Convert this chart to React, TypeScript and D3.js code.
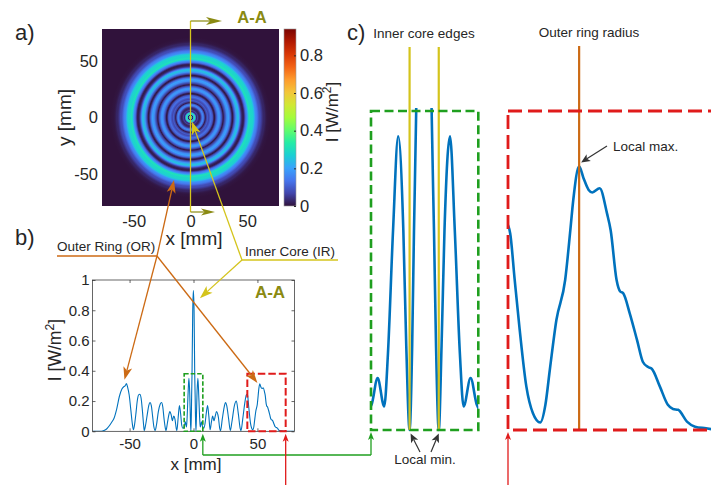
import * as d3 from 'd3';
import React, { useEffect, useRef } from 'react';

// A-A cross-section of the intensity map: x [mm], I [W/m^2]
const profileX = [
  -79, -72, -70, -68, -66, -64, -62, -60, -58, -56,
  -54.5, -53.5, -52.5, -51.5, -50.3, -49, -48, -47, -46, -45,
  -44, -43, -42, -41, -40, -39, -38.5, -37.5, -36, -35,
  -34, -33, -32, -31, -30, -29, -27.5, -26, -25, -24,
  -23, -22, -21.5, -20.5, -19.5, -18.5, -17.5, -16.5, -15.5, -14.5,
  -13.5, -13, -12, -11, -10, -9.2, -8.3, -7.23, -6.4, -5.5,
  -5, -4.3, -3.6, -2.9, -2.5, -2.05, -1.7, -1.45, -1.15, -0.6,
  -0.1, 0.45, 0.95, 1.27, 1.55, 1.92, 2.3, 2.7, 3.45, 4.1,
  4.8, 5.3, 6.25, 7.1, 8, 9, 10, 11, 12, 13,
  14, 15, 16, 17, 18, 19.5, 20.5, 21.2, 22.5, 24,
  25, 26, 27.5, 28.8, 30, 32, 33.5, 35, 36.5, 37.2,
  38.5, 40, 41.3, 42, 42.4, 43, 43.7, 44.6, 45.5, 46.5,
  47.2, 47.8, 48.7, 49.9, 50.6, 51, 51.8, 52.4, 53.1, 53.6,
  54.6, 55.6, 56.1, 56.9, 57.4, 57.8, 58.7, 59.7, 60.5, 61.2,
  61.7, 62.8, 63.9, 64.6, 65.3, 66.5, 67.6, 69.1, 70.5, 79,
];
const profileI = [
  0, 0, 0.005, 0.015, 0.035, 0.06, 0.09, 0.15, 0.23, 0.28,
  0.295, 0.3, 0.315, 0.29, 0.24, 0.14, 0.06, 0.01, 0.05, 0.12,
  0.2, 0.24, 0.245, 0.22, 0.14, 0.04, 0.005, 0.04, 0.12, 0.17,
  0.19, 0.17, 0.1, 0.03, 0.005, 0.04, 0.13, 0.18, 0.19, 0.16,
  0.08, 0.02, 0.005, 0.05, 0.1, 0.13, 0.11, 0.07, 0.1, 0.08,
  0.02, 0.005, 0.09, 0.17, 0.11, 0.04, 0.02, 0.03, 0.062, 0.028,
  0.09, 0.238, 0.35, 0.238, 0.1, 0, 0.1, 0.238, 0.38, 0.8,
  0.93, 0.8, 0.38, 0.238, 0.1, 0, 0.1, 0.238, 0.35, 0.238,
  0.09, 0.028, 0.062, 0.03, 0.02, 0.05, 0.12, 0.17, 0.1, 0.01,
  0.06, 0.1, 0.07, 0.1, 0.13, 0.09, 0.02, 0.005, 0.08, 0.16,
  0.19, 0.17, 0.08, 0.005, 0.06, 0.17, 0.2, 0.12, 0.02, 0.005,
  0.08, 0.18, 0.24, 0.245, 0.234, 0.18, 0.119, 0.052, 0.02, 0.009,
  0.03, 0.0715, 0.131, 0.179, 0.238, 0.274, 0.314, 0.3, 0.286, 0.283,
  0.288, 0.258, 0.238, 0.179, 0.165, 0.163, 0.139, 0.107, 0.081, 0.075,
  0.073, 0.052, 0.03, 0.025, 0.024, 0.01, 0.004, 0.002, 0, 0,
];

const xTicksA = [-50, 0, 50];
const yTicksA = [-50, 0, 50];
const cbarTicks = [0, 0.2, 0.4, 0.6, 0.8];
const xTicksB = [-50, 0, 50];
const yTicksB = [0, 0.2, 0.4, 0.6, 0.8, 1];

const greenBox = [-7.3, 7.3]; // inner core window
const redBox = [42.1, 72.1]; // outer ring window
const boxTop = 0.38;
const coreEdges = [-2.05, 1.92];
const outerRadius = 51.8;
const cmax = 0.94;

const turboStops = ['#30123b', '#4145ab', '#4675ed', '#39a2fc', '#1bcfd4', '#24eca6', '#61fc6c', '#a4fc3b',
  '#d1e834', '#f3c63a', '#fe9b2d', '#f36315', '#d93806', '#b11901', '#7a0402'];

const App: React.FC = () => {
  const svgRef = useRef<SVGSVGElement | null>(null);

  useEffect(() => {
    if (!svgRef.current) return;
    const svg = d3.select(svgRef.current);
    svg.selectAll('*').remove();

    const font = 'Liberation Sans, Arial, Helvetica, sans-serif';
    const txt = '#262626';
    const blue = '#0072bd';
    const olive = '#8a8a12';
    const yellow = '#d4c41c';
    const orange = '#cc6a14';
    const green = '#1f9f1f';
    const red = '#e01b1b';

    const profile = profileX.map((x, i) => ({ x, y: profileI[i] }));
    const turbo = d3.piecewise(d3.interpolateRgb, turboStops);
    const color = (v: number) => turbo(Math.max(0, Math.min(1, v / cmax)));

    const defs = svg.append('defs');

    // arrow with a notched head
    const arrow = (x1: number, y1: number, x2: number, y2: number, col: string, w: number, len: number, half: number) => {
      const a = Math.atan2(y2 - y1, x2 - x1);
      const ux = Math.cos(a), uy = Math.sin(a);
      const bx = x2 - ux * len, by = y2 - uy * len;
      const nx = x2 - ux * len * 0.75, ny = y2 - uy * len * 0.75;
      svg.append('line').attr('x1', x1).attr('y1', y1).attr('x2', nx).attr('y2', ny)
        .attr('stroke', col).attr('stroke-width', w);
      svg.append('path')
        .attr('d', `M${x2},${y2}L${bx - uy * half},${by + ux * half}L${nx},${ny}L${bx + uy * half},${by - ux * half}Z`)
        .attr('fill', col);
    };

    const text = (x: number, y: number, s: string, size: number, anchor = 'start', col = txt, weight = 'normal') =>
      svg.append('text').attr('x', x).attr('y', y).attr('font-family', font).attr('font-size', size)
        .attr('text-anchor', anchor).attr('fill', col).attr('font-weight', weight).text(s);

    const unitLabel = (x: number, y: number, size: number) => {
      const t = svg.append('text').attr('transform', `translate(${x},${y}) rotate(-90)`)
        .attr('font-family', font).attr('font-size', size).attr('fill', txt).attr('text-anchor', 'middle');
      t.append('tspan').text('I [W/m');
      t.append('tspan').attr('dy', -size * 0.4).attr('font-size', size * 0.7).text('2');
      t.append('tspan').attr('dy', size * 0.4).text(']');
    };

    // ---------- a) intensity map ----------
    const xA = d3.scaleLinear().domain([-78, 78]).range([102, 279]);
    const yA = d3.scaleLinear().domain([-78, 78]).range([206, 29]);

    const rg = defs.append('radialGradient').attr('id', 'rings').attr('gradientUnits', 'userSpaceOnUse')
      .attr('cx', xA(0)).attr('cy', yA(0)).attr('r', xA(79) - xA(0));
    profile.filter((d) => d.x >= -0.1).forEach((d) => {
      rg.append('stop').attr('offset', Math.max(0, d.x) / 79).attr('stop-color', color(d.y));
    });
    svg.append('rect').attr('x', xA(-78)).attr('y', yA(78))
      .attr('width', xA(78) - xA(-78)).attr('height', yA(-78) - yA(78)).attr('fill', 'url(#rings)');

    const axA = svg.append('g').attr('transform', `translate(0,${yA(-78)})`)
      .call(d3.axisBottom(xA).tickValues(xTicksA).tickSize(0).tickPadding(9).tickFormat((d) => String(d)));
    const ayA = svg.append('g').attr('transform', `translate(${xA(-78)},0)`)
      .call(d3.axisLeft(yA).tickValues(yTicksA).tickSize(0).tickPadding(4).tickFormat((d) => String(d)));
    [axA, ayA].forEach((g) => {
      g.attr('font-family', font).attr('font-size', 16.5).attr('color', txt);
      g.select('.domain').remove();
    });
    svg.append('text').attr('transform', `translate(64,${yA(0)}) rotate(-90)`).attr('dominant-baseline', 'central')
      .attr('font-family', font).attr('font-size', 19).attr('fill', txt).attr('text-anchor', 'middle').text('y [mm]');
    text(194, 245, 'x [mm]', 19, 'middle');

    // colorbar
    const yCb = d3.scaleLinear().domain([0, cmax]).range([206, 29]);
    const lg = defs.append('linearGradient').attr('id', 'cbar').attr('x1', 0).attr('y1', 1).attr('x2', 0).attr('y2', 0);
    turboStops.forEach((c, i) => lg.append('stop').attr('offset', i / (turboStops.length - 1)).attr('stop-color', c));
    svg.append('rect').attr('x', 284).attr('y', yCb(cmax)).attr('width', 12).attr('height', yCb(0) - yCb(cmax))
      .attr('fill', 'url(#cbar)').attr('stroke', '#9a9a9a').attr('stroke-width', 0.6);
    const cb = svg.append('g').attr('transform', 'translate(296,0)')
      .call(d3.axisRight(yCb).tickValues(cbarTicks).tickSize(-2).tickPadding(4).tickFormat((d) => String(d)));
    cb.attr('font-family', font).attr('font-size', 16.5).attr('color', txt);
    cb.select('.domain').remove();
    unitLabel(338, 112, 17);

    // A-A section marker
    svg.append('line').attr('x1', xA(0)).attr('x2', xA(0)).attr('y1', 21).attr('y2', 212)
      .attr('stroke', yellow).attr('stroke-width', 1.3);
    arrow(xA(0), 21, 222, 21, olive, 1.2, 16, 4);
    arrow(xA(0), 212, 215, 212, olive, 1.2, 14, 3.6);
    text(252, 23, 'A-A', 16.5, 'middle', olive, 'bold');

    // ---------- b) profile ----------
    const xB = d3.scaleLinear().domain([-79, 79]).range([92.5, 294.5]);
    const yB = d3.scaleLinear().domain([0, 1]).range([431.3, 280]);

    defs.append('clipPath').attr('id', 'clipB').append('rect')
      .attr('x', xB(-79)).attr('y', yB(1)).attr('width', xB(79) - xB(-79)).attr('height', yB(0) - yB(1));

    const lineB = d3.line<{ x: number; y: number }>().x((d) => xB(d.x)).y((d) => yB(d.y)).curve(d3.curveMonotoneX);
    svg.append('path').datum(profile).attr('d', lineB).attr('clip-path', 'url(#clipB)')
      .attr('fill', 'none').attr('stroke', blue).attr('stroke-width', 1.1);

    const bxB = svg.append('g').attr('transform', `translate(0,${yB(0)})`)
      .call(d3.axisBottom(xB).tickValues(xTicksB).tickSize(-3).tickPadding(7).tickFormat((d) => String(d)));
    const byB = svg.append('g').attr('transform', `translate(${xB(-79)},0)`)
      .call(d3.axisLeft(yB).tickValues(yTicksB).tickSize(-3).tickPadding(3).tickFormat((d) => String(d)));
    const btB = svg.append('g').attr('transform', `translate(0,${yB(1)})`)
      .call(d3.axisTop(xB).tickValues(xTicksB).tickSize(-3).tickFormat(() => ''));
    const brB = svg.append('g').attr('transform', `translate(${xB(79)},0)`)
      .call(d3.axisRight(yB).tickValues(yTicksB).tickSize(-3).tickFormat(() => ''));
    [bxB, byB, btB, brB].forEach((g) => {
      g.attr('font-family', font).attr('font-size', 15).attr('color', txt);
      g.select('.domain').remove();
      g.selectAll('line').attr('stroke-width', 0.7);
    });
    svg.append('rect').attr('x', xB(-79)).attr('y', yB(1)).attr('width', xB(79) - xB(-79)).attr('height', yB(0) - yB(1))
      .attr('fill', 'none').attr('stroke', txt).attr('stroke-width', 0.7);
    unitLabel(61, 350, 17.5);
    text(196, 470, 'x [mm]', 17, 'middle');
    text(270, 298, 'A-A', 17, 'middle', olive, 'bold');

    // zoom windows in b
    svg.append('rect').attr('x', xB(greenBox[0])).attr('y', yB(boxTop))
      .attr('width', xB(greenBox[1]) - xB(greenBox[0])).attr('height', yB(0) - yB(boxTop))
      .attr('fill', 'none').attr('stroke', green).attr('stroke-width', 1.6).attr('stroke-dasharray', '4.5,2');
    svg.append('rect').attr('x', xB(redBox[0])).attr('y', yB(boxTop))
      .attr('width', xB(redBox[1]) - xB(redBox[0])).attr('height', yB(0) - yB(boxTop))
      .attr('fill', 'none').attr('stroke', red).attr('stroke-width', 2).attr('stroke-dasharray', '7.5,3');

    // ---------- c) zoomed windows ----------
    const xG = d3.scaleLinear().domain(greenBox).range([371, 478.3]);
    const xR = d3.scaleLinear().domain(redBox).range([508, 728]);
    const yC = d3.scaleLinear().domain([0, boxTop]).range([430, 111]);

    defs.append('clipPath').attr('id', 'clipG').append('rect')
      .attr('x', xG(greenBox[0])).attr('y', yC(boxTop) - 3).attr('width', xG(greenBox[1]) - xG(greenBox[0])).attr('height', 330);
    defs.append('clipPath').attr('id', 'clipR').append('rect')
      .attr('x', xR(redBox[0])).attr('y', yC(boxTop) - 3).attr('width', xR(redBox[1]) - xR(redBox[0])).attr('height', 330);

    const near = (dom: number[]) => profile.filter((d) => d.x >= dom[0] - 2 && d.x <= dom[1] + 2);
    const lineG = d3.line<{ x: number; y: number }>().x((d) => xG(d.x)).y((d) => yC(d.y)).curve(d3.curveMonotoneX);
    const lineR = d3.line<{ x: number; y: number }>().x((d) => xR(d.x)).y((d) => yC(d.y)).curve(d3.curveMonotoneX);
    svg.append('path').datum(near(greenBox)).attr('d', lineG).attr('clip-path', 'url(#clipG)')
      .attr('fill', 'none').attr('stroke', blue).attr('stroke-width', 2.6);
    svg.append('path').datum(near(redBox)).attr('d', lineR).attr('clip-path', 'url(#clipR)')
      .attr('fill', 'none').attr('stroke', blue).attr('stroke-width', 2.6);

    coreEdges.forEach((e) => {
      svg.append('line').attr('x1', xG(e)).attr('x2', xG(e)).attr('y1', 47).attr('y2', yC(0))
        .attr('stroke', yellow).attr('stroke-width', 2.2);
    });
    svg.append('line').attr('x1', xR(outerRadius)).attr('x2', xR(outerRadius)).attr('y1', 46).attr('y2', yC(0))
      .attr('stroke', orange).attr('stroke-width', 2.2);

    svg.append('rect').attr('x', xG(greenBox[0])).attr('y', yC(boxTop))
      .attr('width', xG(greenBox[1]) - xG(greenBox[0])).attr('height', yC(0) - yC(boxTop))
      .attr('fill', 'none').attr('stroke', green).attr('stroke-width', 2.6).attr('stroke-dasharray', '9,4.5');
    svg.append('rect').attr('x', xR(redBox[0])).attr('y', yC(boxTop))
      .attr('width', xR(redBox[1]) - xR(redBox[0])).attr('height', yC(0) - yC(boxTop))
      .attr('fill', 'none').attr('stroke', red).attr('stroke-width', 2.8).attr('stroke-dasharray', '14,6');

    text(424, 38, 'Inner core edges', 13.5, 'middle');
    text(589, 37, 'Outer ring radius', 13.5, 'middle');
    text(613, 151, 'Local max.', 13.5);
    arrow(607, 146, xR(outerRadius) + 2, yC(0.314) - 4, '#333', 1.2, 9, 4);
    text(425, 464, 'Local min.', 13.5, 'middle');
    arrow(420, 452, xG(coreEdges[0]) + 1, yC(0) + 3.5, '#333', 1.2, 9, 4);
    arrow(431, 452, xG(coreEdges[1]), yC(0) + 3.5, '#333', 1.2, 9, 4);

    // connectors b -> c
    svg.append('line').attr('x1', xB(greenBox[1])).attr('x2', xG(greenBox[0])).attr('y1', 455).attr('y2', 455)
      .attr('stroke', green).attr('stroke-width', 1.3);
    arrow(xB(greenBox[1]), 455, xB(greenBox[1]), yB(0) + 2.5, green, 1.3, 8, 3);
    arrow(xG(greenBox[0]), 455, xG(greenBox[0]), yC(0) + 2, green, 1.3, 8, 3);
    arrow(xB(redBox[1]), 485, xB(redBox[1]), yB(0) + 2.5, red, 1.3, 8, 3);
    arrow(xR(redBox[0]), 485, xR(redBox[0]), yC(0) + 2, red, 1.3, 8, 3);

    // callouts between a) and b)
    text(57, 251, 'Outer Ring (OR)', 13.5);
    svg.append('line').attr('x1', 57).attr('x2', 157).attr('y1', 256).attr('y2', 256).attr('stroke', orange).attr('stroke-width', 1.3);
    arrow(157, 256, 174, 180, orange, 1.3, 13, 4.5);
    arrow(157, 256, xB(-54), yB(0.34), orange, 1.3, 13, 4.5);
    arrow(157, 256, xB(50), yB(0.32), orange, 1.3, 13, 4.5);

    text(245, 256, 'Inner Core (IR)', 13.5);
    svg.append('line').attr('x1', 242).attr('x2', 338).attr('y1', 260).attr('y2', 260).attr('stroke', yellow).attr('stroke-width', 1.3);
    arrow(242, 260, xA(1.2), yA(-3.5), yellow, 1.3, 13, 4.5);
    arrow(242, 260, xB(5), yB(0.88), yellow, 1.3, 13, 4.5);

    // panel letters
    text(15, 40, 'a)', 22);
    text(15, 245, 'b)', 22);
    text(347, 40, 'c)', 22);
  }, []);

  return (
    <svg ref={svgRef} width={711} height={485} style={{ position: 'absolute', left: 0, top: 0, background: '#fff' }}>
      {/* drawn in useEffect */}
    </svg>
  );
};

export default App;
